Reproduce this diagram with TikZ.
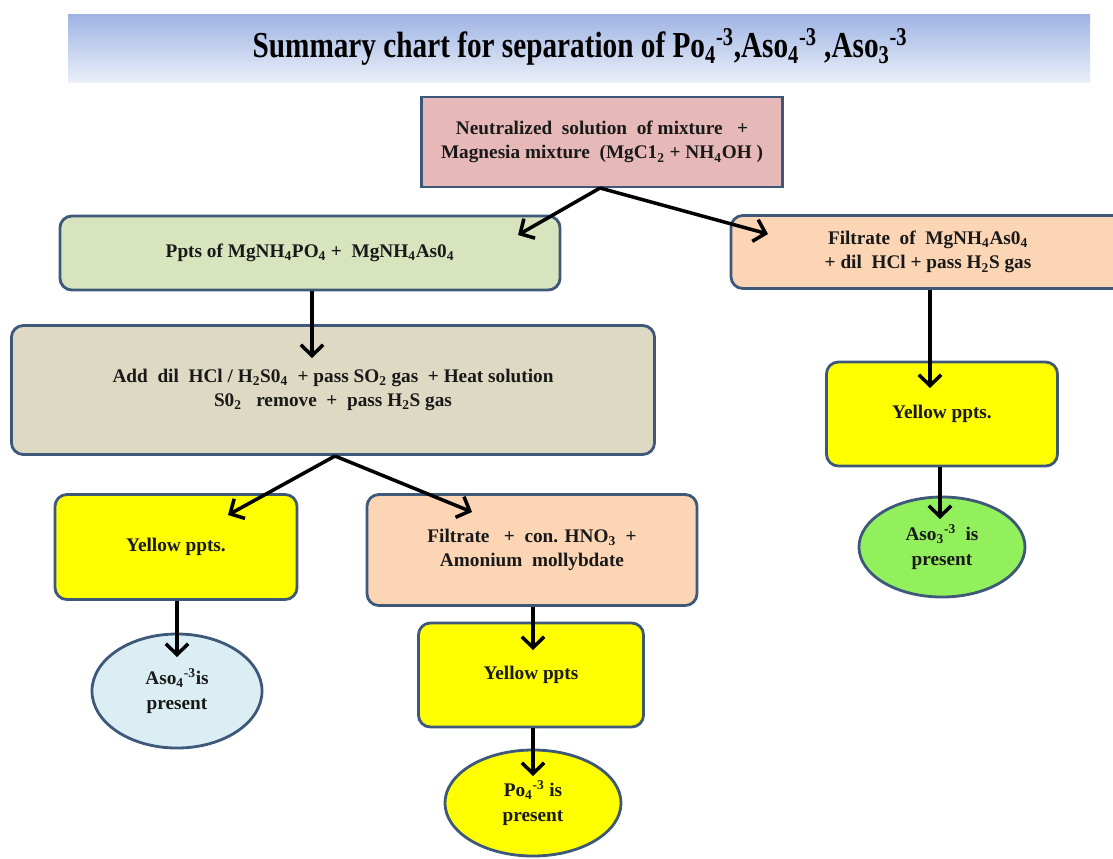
\documentclass[tikz,border=0pt]{standalone}
\usepackage{fontspec}
\setmainfont{Liberation Serif}
\newfontfamily\narrowserif[FakeStretch=0.8]{Liberation Serif}
\usetikzlibrary{arrows.meta,shapes.geometric}
\definecolor{edgeblue}{RGB}{62,88,122}
\definecolor{bandtop}{RGB}{158,180,228}
\definecolor{bandbot}{RGB}{234,239,248}
\definecolor{mixpink}{RGB}{230,185,184}
\definecolor{pptgreen}{RGB}{215,228,189}
\definecolor{peach}{RGB}{252,213,181}
\definecolor{khaki}{RGB}{221,217,195}
\definecolor{ovalgreen}{RGB}{146,240,92}
\definecolor{ovalblue}{RGB}{219,238,244}
\definecolor{pptyellow}{RGB}{255,255,0}
\begin{document}
\begin{tikzpicture}[x=0.025cm,y=-0.025cm,
    box/.style={draw=edgeblue,line width=2pt,rounded corners=8.5pt,align=center,
      inner sep=0pt,text=black!90,font=\bfseries\fontsize{13.7}{17.5}\selectfont},
    oval/.style={ellipse,draw=edgeblue,line width=2pt,align=center,
      inner sep=0pt,text=black!90,font=\bfseries\fontsize{13.7}{17.5}\selectfont},
    arrow/.style={line width=2.5pt,-{Straight Barb[length=2.7mm,width=5.6mm]}}]
  \useasboundingbox (0,0) rectangle (1113,858);
  % title band
  \shade[top color=bandtop,bottom color=bandbot] (68,14) rectangle (1090,82);
  \node (title) at (580,47) {\narrowserif\bfseries\fontsize{26}{30}\selectfont
    Summary chart for separation of Po\textsubscript{4}\textsuperscript{-3},Aso\textsubscript{4}\textsuperscript{-3} ,Aso\textsubscript{3}\textsuperscript{-3}};
  % boxes
  \node[box,rounded corners=0pt,fill=mixpink,minimum width=9.025cm,minimum height=2.25cm] (mix) at (602,142)
    {Neutralized\ \ solution\ \ of mixture\ \ \ +\\Magnesia mixture\ \ (MgC1\textsubscript{2} + NH\textsubscript{4}OH )};
  \node[box,fill=pptgreen,minimum width=12.5cm,minimum height=1.85cm] (ppts) at (310,253)
    {Ppts\ of MgNH\textsubscript{4}PO\textsubscript{4} +\ \ MgNH\textsubscript{4}As0\textsubscript{4}};
  \node[box,fill=peach,minimum width=9.85cm,minimum height=1.825cm] (filt) at (928,252)
    {Filtrate\ \ of\ \ MgNH\textsubscript{4}As0\textsubscript{4}\\+ dil\ \ HCl + pass H\textsubscript{2}S gas};
  \node[box,fill=khaki,minimum width=16.075cm,minimum height=3.225cm] (treat) at (333,390)
    {Add\ \ dil\ \ HCl / H\textsubscript{2}S0\textsubscript{4}\ \ + pass SO\textsubscript{2} gas\ \ + Heat solution\\S0\textsubscript{2}\ \ \ remove\ \ +\ \ pass H\textsubscript{2}S gas};
  \node[box,fill=pptyellow,minimum width=5.775cm,minimum height=2.6cm] (yelR) at (942,414) {Yellow ppts.};
  \node[oval,fill=ovalgreen,minimum width=4.15cm,minimum height=2.5cm] (aso3) at (942,547)
    {Aso\textsubscript{3}\textsuperscript{-3}\ \ is\\present};
  \node[box,fill=pptyellow,minimum width=6.05cm,minimum height=2.625cm] (yelL) at (176,547) {Yellow ppts.};
  \node[box,fill=peach,minimum width=8.25cm,minimum height=2.775cm] (molyb) at (532,550)
    {Filtrate\ \ \ +\ \ con. HNO\textsubscript{3}\ \ +\\Amonium\ \ mollybdate};
  \node[oval,fill=ovalblue,minimum width=4.25cm,minimum height=2.85cm] (aso4) at (177,691)
    {Aso\textsubscript{4}\textsuperscript{-3}is\\present};
  \node[box,fill=pptyellow,minimum width=5.625cm,minimum height=2.6cm] (yelM) at (531,675) {Yellow ppts};
  \node[oval,fill=pptyellow,minimum width=4.4cm,minimum height=2.65cm] (po4) at (533,803)
    {Po\textsubscript{4}\textsuperscript{-3} is\\present};
  % arrow tips inside the boxes
  \coordinate (mixout) at (600,188);
  \coordinate (pptsin) at (518,235);
  \coordinate (filtin) at (768,234);
  \coordinate (treatin) at (312,358);
  \coordinate (treatout) at (335,456);
  \coordinate (yelLin) at (228,515);
  \coordinate (molybin) at (472,512);
  \coordinate (yelRin) at (930,388);
  \coordinate (aso3in) at (940,519);
  \coordinate (aso4in) at (177,657);
  \coordinate (yelMin) at (533,650);
  \coordinate (po4in) at (533,776);
  % connectors
  \draw[arrow] (mixout) -- (pptsin);
  \draw[arrow] (mixout) -- (filtin);
  \draw[arrow] (ppts.south -| treatin) -- (treatin);
  \draw[arrow] (treatout) -- (yelLin);
  \draw[arrow] (treatout) -- (molybin);
  \draw[arrow] (filt.south -| yelRin) -- (yelRin);
  \draw[arrow] (yelR.south -| aso3in) -- (aso3in);
  \draw[arrow] (yelL.south -| aso4in) -- (aso4in);
  \draw[arrow] (molyb.south -| yelMin) -- (yelMin);
  \draw[arrow] (yelM.south -| po4in) -- (po4in);
\end{tikzpicture}
\end{document}
